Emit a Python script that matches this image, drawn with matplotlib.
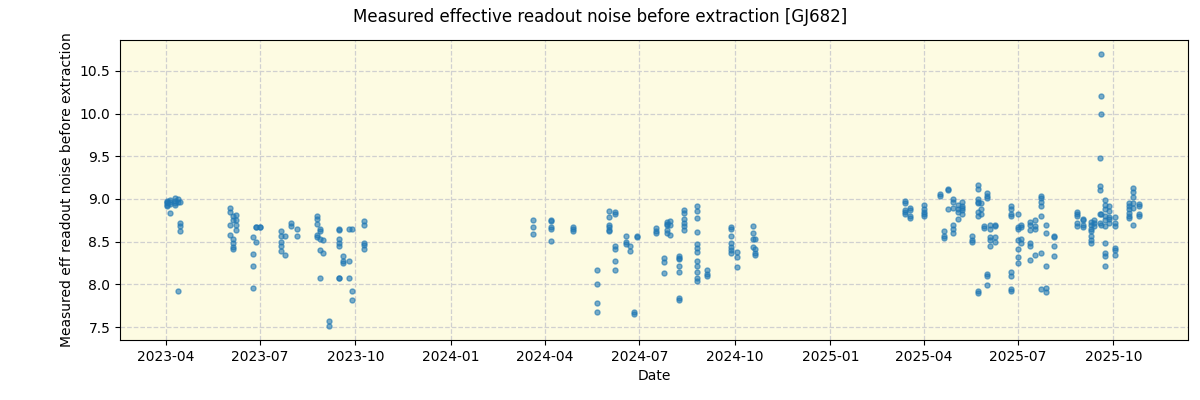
import matplotlib
matplotlib.use("Agg")
import matplotlib.pyplot as plt
import matplotlib.dates as mdates
import numpy as np
import pandas as pd

# observation dates and the noise values measured on each of them
obs_dates = [
    "2023-04-02", "2023-04-05", "2023-04-10", "2023-04-13", "2023-04-15",
    "2023-06-02", "2023-06-05", "2023-06-08",
    "2023-06-24", "2023-06-27", "2023-07-01",
    "2023-07-21", "2023-07-25", "2023-07-31", "2023-08-06",
    "2023-08-25", "2023-08-28", "2023-08-31", "2023-09-06",
    "2023-09-15", "2023-09-19", "2023-09-25", "2023-09-28", "2023-10-09",
    "2024-03-20", "2024-04-07", "2024-04-28", "2024-05-21",
    "2024-06-02", "2024-06-07", "2024-06-18", "2024-06-22", "2024-06-26",
    "2024-06-29", "2024-07-17", "2024-07-25", "2024-07-28", "2024-07-30",
    "2024-08-08", "2024-08-13", "2024-08-25", "2024-09-04",
    "2024-09-27", "2024-10-03", "2024-10-18", "2024-10-20",
    "2025-03-14", "2025-03-19", "2025-04-01", "2025-04-17", "2025-04-21",
    "2025-04-25", "2025-04-29", "2025-05-04", "2025-05-08",
    "2025-05-18", "2025-05-23", "2025-05-26", "2025-05-29", "2025-06-01",
    "2025-06-04", "2025-06-09", "2025-06-24", "2025-07-01", "2025-07-04",
    "2025-07-13", "2025-07-17", "2025-07-23", "2025-07-28", "2025-08-05",
    "2025-08-27", "2025-09-02", "2025-09-09", "2025-09-12",
    "2025-09-18", "2025-09-19", "2025-09-23", "2025-09-27", "2025-10-03",
    "2025-10-16", "2025-10-20", "2025-10-26",
]
obs_values = [
    [8.97, 8.93, 8.95, 8.98, 8.92], [8.84, 8.96, 8.99, 8.94], [8.98, 9.01, 8.95, 8.93],
    [7.92, 8.97, 9.0], [8.72, 8.68, 8.63, 8.97],
    [8.89, 8.85, 8.69, 8.58], [8.80, 8.75, 8.53, 8.49, 8.44, 8.41], [8.81, 8.75, 8.70, 8.64],
    [8.56, 8.36, 8.21, 7.96], [8.67, 8.67, 8.50], [8.67, 8.67],
    [8.63, 8.57, 8.50, 8.45, 8.39], [8.57, 8.34], [8.72, 8.68], [8.65, 8.57],
    [8.80, 8.76, 8.71, 8.58, 8.55], [8.65, 8.62, 8.53, 8.40, 8.08], [8.52, 8.37], [7.57, 7.51],
    [8.65, 8.64, 8.53, 8.49, 8.45, 8.08, 8.07], [8.33, 8.28, 8.25], [8.65, 8.27, 8.07],
    [8.65, 7.92, 7.82], [8.74, 8.70, 8.49, 8.46, 8.41],
    [8.75, 8.67, 8.59], [8.75, 8.74, 8.67, 8.65, 8.51], [8.67, 8.65, 8.63],
    [8.17, 8.00, 7.78, 7.68],
    [8.86, 8.79, 8.70, 8.67, 8.64, 8.62], [8.85, 8.83, 8.45, 8.42, 8.28, 8.17],
    [8.57, 8.50, 8.47], [8.45, 8.39], [7.68, 7.66], [8.57, 8.55],
    [8.66, 8.63, 8.60], [8.31, 8.26, 8.13], [8.73, 8.71, 8.70, 8.64, 8.60],
    [8.74, 8.70, 8.58],
    [8.33, 8.31, 8.30, 8.21, 8.15, 7.84, 7.82], [8.87, 8.84, 8.76, 8.72, 8.68, 8.64],
    [8.92, 8.86, 8.78, 8.61, 8.47, 8.43, 8.38, 8.27, 8.22, 8.15, 8.08, 8.04],
    [8.17, 8.12, 8.10],
    [8.67, 8.65, 8.57, 8.49, 8.44, 8.40, 8.37], [8.38, 8.32, 8.20],
    [8.68, 8.60, 8.53, 8.44], [8.53, 8.41, 8.37, 8.35],
    [8.98, 8.95, 8.87, 8.85, 8.83], [8.90, 8.87, 8.80, 8.78],
    [8.93, 8.88, 8.85, 8.82, 8.80], [9.06, 9.03], [8.62, 8.57, 8.54],
    [9.10, 9.12, 8.88], [9.00, 8.97, 8.90, 8.70, 8.65, 8.60], [8.93, 8.88, 8.85, 8.77],
    [8.97, 8.92, 8.90, 8.87, 8.82],
    [8.57, 8.52, 8.50], [9.16, 9.12, 9.00, 8.96, 8.95, 8.85, 8.80, 7.92, 7.90],
    [8.95, 8.88, 8.82], [8.68, 8.66], [9.07, 9.04, 9.01, 8.12, 8.10, 7.99],
    [8.70, 8.65, 8.55, 8.52, 8.45], [8.70, 8.68, 8.55, 8.50],
    [8.92, 8.88, 8.82, 8.80, 8.15, 8.10, 7.95, 7.92],
    [8.83, 8.67, 8.65, 8.52, 8.42, 8.32, 8.25], [8.70, 8.67, 8.53, 8.48],
    [8.73, 8.70, 8.64, 8.49, 8.45, 8.29], [8.75, 8.68, 8.65, 8.34],
    [9.04, 9.01, 8.97, 8.92, 8.80, 8.37, 7.95], [8.70, 8.60, 8.22, 7.96, 7.91],
    [8.57, 8.55, 8.45, 8.33],
    [8.85, 8.82, 8.80, 8.72, 8.68], [8.77, 8.75, 8.70, 8.67],
    [8.73, 8.70, 8.65, 8.62, 8.57, 8.52, 8.49], [8.75, 8.72, 8.68],
    [9.48, 9.15, 9.10, 8.83, 8.72], [10.70, 10.21, 10.0, 8.82, 8.70],
    [8.99, 8.93, 8.88, 8.80, 8.75, 8.68, 8.49, 8.37, 8.33, 8.21],
    [8.92, 8.86, 8.79, 8.77, 8.72], [8.79, 8.72, 8.68, 8.43, 8.40, 8.35],
    [8.95, 8.92, 8.88, 8.84, 8.80, 8.78], [9.13, 9.08, 9.02, 8.95, 8.90, 8.70],
    [8.94, 8.92, 8.82, 8.80],
]

dates = pd.to_datetime(np.repeat(obs_dates, [len(v) for v in obs_values]))
values = np.concatenate(obs_values)

fig = plt.figure(figsize=(12, 4), dpi=100)
ax = fig.add_axes([0.1, 0.15, 0.89, 0.75])
ax.set_facecolor("#fdfbe2")
ax.scatter(dates, values, s=13, color="#1f77b4", alpha=0.6, zorder=3)

ax.grid(True, linestyle="--", color="#d0d0d0", linewidth=0.9)
ax.set_axisbelow(True)
ax.xaxis.set_major_locator(mdates.MonthLocator(bymonth=[1, 4, 7, 10]))
ax.xaxis.set_major_formatter(mdates.DateFormatter("%Y-%m"))
ax.set_xlim(pd.Timestamp("2023-02-16"), pd.Timestamp("2025-12-12"))
ax.set_ylim(7.35, 10.86)

ax.set_xlabel("Date")
ax.set_ylabel("Measured eff readout noise before extraction")
fig.suptitle("Measured effective readout noise before extraction [GJ682]", fontsize=12, y=0.98)

fig.savefig("out.png", dpi=100)
